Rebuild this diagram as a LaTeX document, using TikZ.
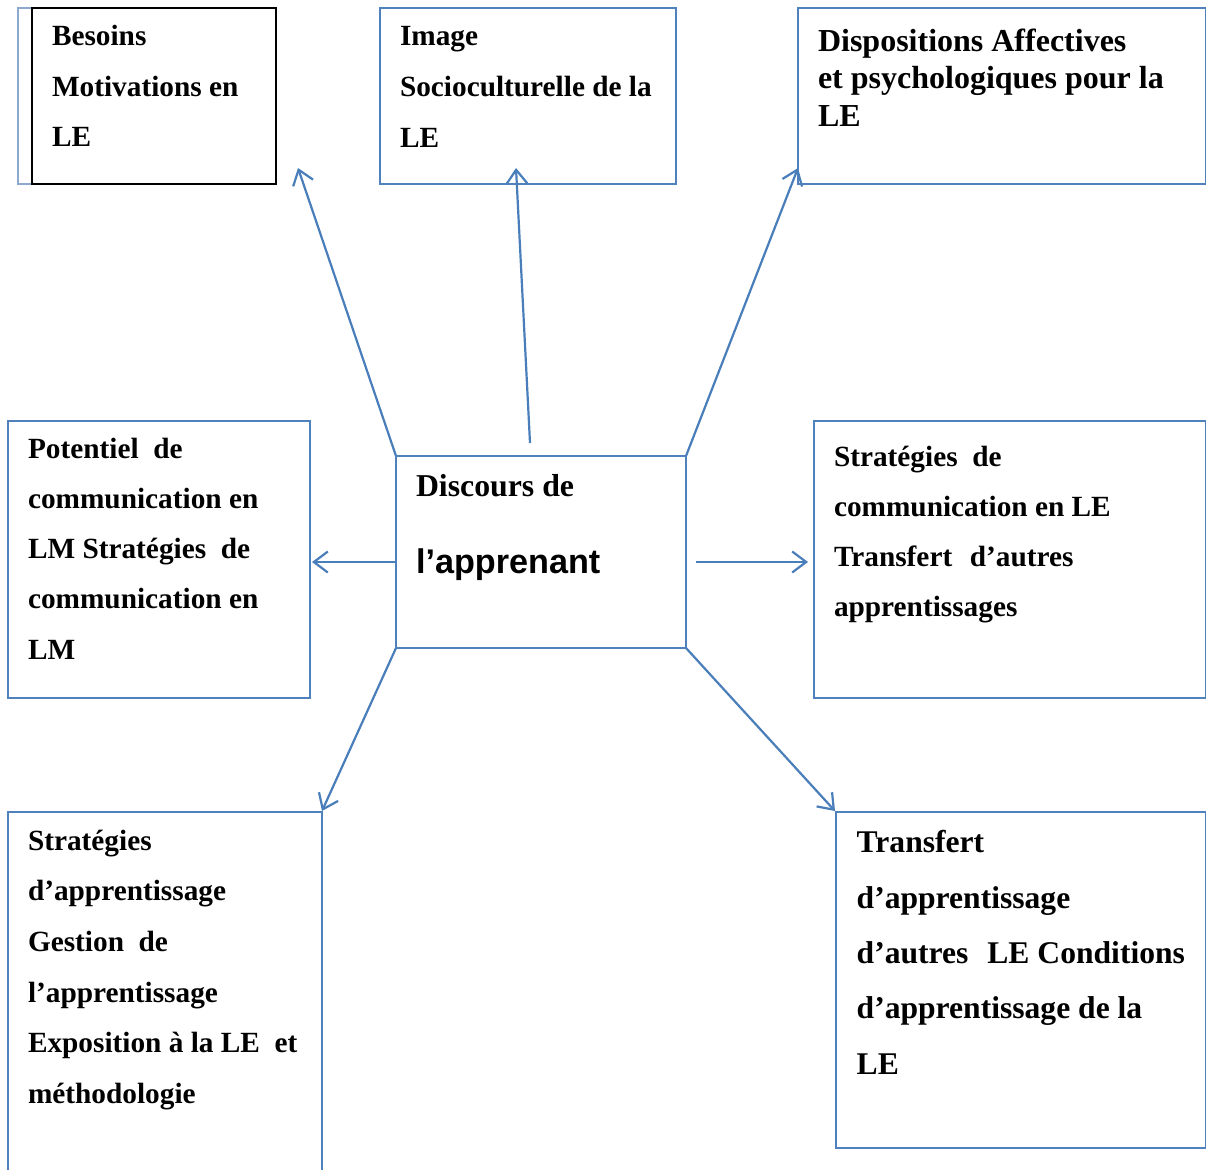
\documentclass[tikz,border=0pt]{standalone}
\usepackage{fontspec}
\setmainfont{Liberation Serif}
\newfontfamily\arialfont{Liberation Sans}
\usetikzlibrary{arrows.meta}
\definecolor{boxblue}{HTML}{4F81BD}
\definecolor{arrowblue}{HTML}{4A7EBB}
\definecolor{paleblue}{HTML}{8EA9D0}
\newcommand\bfsz[2]{\bfseries\fontsize{#1}{#2}\selectfont}
\newcommand\wsp{\hspace{0.25em}}
\newcommand\dsp{\hspace{0.5em}}
\newcommand\wdsp{\hspace{0.6em}}
\begin{document}
\begin{tikzpicture}[x=1pt,y=-1pt,
  box/.style={draw=boxblue, line width=1.3pt, rectangle, inner sep=0pt, outer sep=0pt, anchor=north west},
  txt/.style={anchor=base west, inner sep=0pt, outer sep=0pt, text width=430pt},
  conn/.style={draw=arrowblue, line width=2.2pt, -{Straight Barb[length=14pt,width=21pt]}}]
\useasboundingbox (0,0) rectangle (1206,1169);
\fill[white] (0,0) rectangle (1206,1169);
\clip (0,0) rectangle (1206,1169);
% boxes
\node[box, draw=paleblue, minimum width=258pt, minimum height=176pt] (tlback) at (18,8) {};
\node[box, draw=black, line width=2pt, minimum width=244pt, minimum height=176pt] (tl) at (32,8) {};
\node[box, minimum width=296pt, minimum height=176pt] (tm) at (380,8) {};
\node[box, minimum width=408pt, minimum height=176pt] (tr) at (798,8) {};
\node[box, minimum width=290pt, minimum height=192pt] (c) at (396,456) {};
\node[box, minimum width=302pt, minimum height=277pt] (ml) at (8,421) {};
\node[box, minimum width=392pt, minimum height=277pt] (mr) at (814,421) {};
\node[box, minimum width=314pt, minimum height=420pt] (bl) at (8,812) {};
\node[box, minimum width=370pt, minimum height=336pt] (br) at (836,812) {};
% texts
\node[txt, font=\bfsz{29.3}{50.5}] (tlt) at (52,45.7) {Besoins\\Motivations\wsp en\\LE};
\node[txt, font=\bfsz{29.3}{50.8}] (tmt) at (400,45.5) {Image\\Socioculturelle\wsp de\wsp la\\LE};
\node[txt, font=\bfsz{32}{37.2}] (trt) at (818,51.7) {Dispositions\wsp Affectives\\et\wsp psychologiques\wsp pour\wsp la\\LE};
\node[txt, font=\bfsz{31.8}{77}] (ct) at (416,496) {Discours\wsp de\\{\arialfont\bfseries\fontsize{34.2}{77}\selectfont l’apprenant}};
\node[txt, font=\bfsz{29.3}{50.2}] (mlt) at (28,458.3) {Potentiel\dsp de\\communication\wsp en\\LM\wsp Stratégies\dsp de\\communication\wsp en\\LM};
\node[txt, font=\bfsz{29.3}{50}] (mrt) at (834,466.7) {Stratégies\dsp de\\communication\wsp en\wsp LE\\Transfert\wdsp d’autres\\apprentissages};
\node[txt, font=\bfsz{29.3}{50.7}] (blt) at (28,850) {Stratégies\\d’apprentissage\\Gestion\dsp de\\l’apprentissage\\Exposition\wsp à\wsp la\wsp LE\dsp et\\méthodologie};
\node[txt, font=\bfsz{31.6}{55.4}] (brt) at (856.7,852.7) {Transfert\\d’apprentissage\\d’autres\wdsp LE\wsp Conditions\\d’apprentissage\wsp de\wsp la\\LE};
% connector end points
\coordinate (tip1) at (298,168);
\coordinate (s2) at (530,443);
\coordinate (tip2) at (516,168);
\coordinate (tip3) at (798,168);
\coordinate (s4) at (396,562);
\coordinate (tip4) at (312,562);
\coordinate (s5) at (696,562);
\coordinate (tip5) at (808,562);
\coordinate (tip6) at (322,811);
\coordinate (tip7) at (835,811);
% connectors
\draw[conn] (c.north west) -- (tip1);
\draw[conn] (s2) -- (tip2);
\draw[conn] (c.north east) -- (tip3);
\draw[conn] (s4) -- (tip4);
\draw[conn] (s5) -- (tip5);
\draw[conn] (c.south west) -- (tip6);
\draw[conn] (c.south east) -- (tip7);
\end{tikzpicture}
\end{document}
